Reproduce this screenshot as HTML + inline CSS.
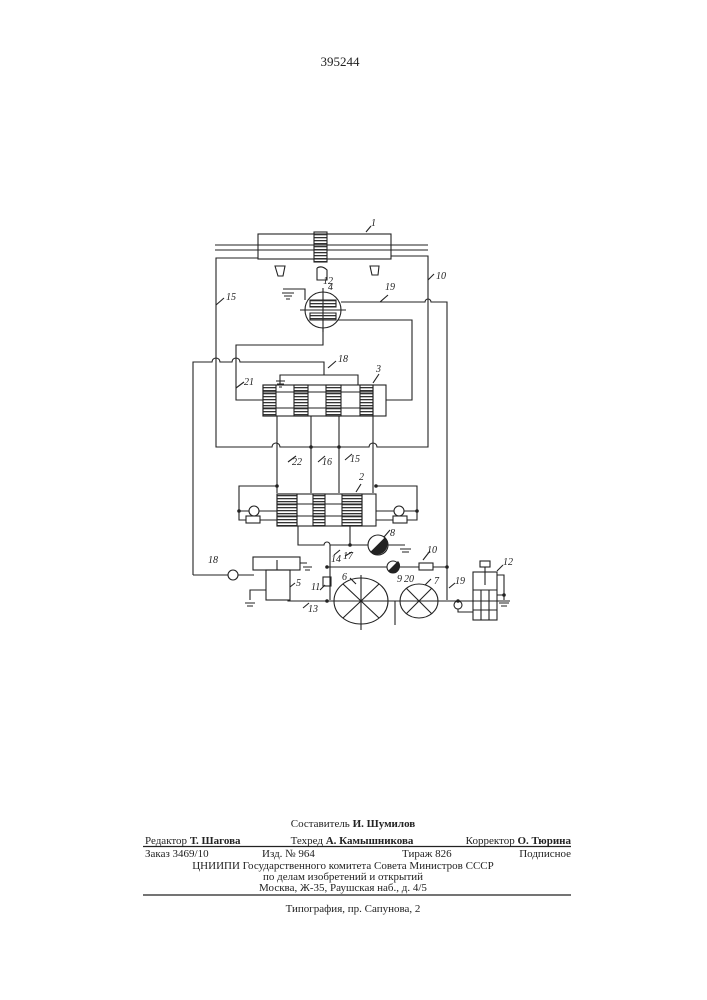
<!DOCTYPE html>
<html><head><meta charset="utf-8"><style>
html,body{margin:0;padding:0;background:#fff}
svg{display:block}
text{font-family:"Liberation Serif",serif;fill:#222}
.l{font-family:"Liberation Sans",sans-serif;font-style:italic;font-size:10px}
</style></head><body>
<svg width="707" height="1000" viewBox="0 0 707 1000" xmlns="http://www.w3.org/2000/svg">
<defs>
<pattern id="h" width="3" height="3" patternUnits="userSpaceOnUse"><rect width="3" height="1.3" fill="#333"/></pattern>
</defs>
<text x="340" y="66" font-size="13" text-anchor="middle">395244</text>
<g stroke="#222" stroke-width="1.1" fill="none">
<!-- cylinder 1 -->
<rect x="258" y="234" width="133" height="25"/>
<line x1="215" y1="245" x2="428" y2="245"/>
<line x1="215" y1="250" x2="428" y2="250"/>
<rect x="314" y="232" width="13" height="30" fill="url(#h)"/>
<line x1="366" y1="232" x2="371" y2="226"/>
<path d="M275 266 l3 10 h5 l2 -10z M370 266 l2 9 h6 l1 -9z M317 268 v12 h10 v-10 q-5 -5 -10 -2"/>
<!-- outer loop lines 16/10 -->
<path d="M258 258 H216 V447 H272 a4 4 0 0 1 8 0 H369 a4 4 0 0 1 8 0 H428 V256 H391"/>
<line x1="428" y1="280" x2="434" y2="274"/>
<line x1="216" y1="305" x2="224" y2="298"/>
<!-- valve 4 -->
<circle cx="323" cy="310" r="18"/>
<line x1="300" y1="310" x2="346" y2="310"/><line x1="323" y1="288" x2="323" y2="332"/>
<path d="M310 300 h26 v7 h-26z M310 313 h26 v7 h-26z" fill="url(#h)"/>
<path d="M305 300 V289 H283 M282 293 h12 M284 296 h8 M286 299 h4"/>
<path d="M341 302 H425 a3 3 0 0 1 6 0 H447 V600"/>
<line x1="380" y1="302" x2="388" y2="295"/>
<path d="M338 320 H412 V400 H386"/>
<path d="M323 328 V345 H236 V400 H263"/>
<line x1="236" y1="388" x2="244" y2="382"/>
<!-- line 18 -->
<path d="M193 575 V362 H212 a4 4 0 0 1 8 0 H232 a4 4 0 0 1 8 0 H324 V375"/>
<line x1="328" y1="368" x2="336" y2="361"/>
<path d="M280 385 V375 H358 V385"/>
<path d="M276 381 h9 M277 384 h7 M279 387 h3"/>
<!-- valve 3 -->
<rect x="263" y="385" width="123" height="31"/>
<rect x="263" y="385" width="13" height="31" fill="url(#h)"/>
<rect x="294" y="385" width="14" height="31" fill="url(#h)"/>
<rect x="326" y="385" width="15" height="31" fill="url(#h)"/>
<rect x="360" y="385" width="13" height="31" fill="url(#h)"/>
<line x1="263" y1="392" x2="373" y2="392"/><line x1="263" y1="408" x2="373" y2="408"/>
<line x1="373" y1="385" x2="373" y2="416"/>
<line x1="373" y1="383" x2="379" y2="374"/>
<!-- lines between 3 and 2 -->
<path d="M277 416 V493 M311 416 V493 M339 416 V493 M373 416 V493"/>
<line x1="288" y1="462" x2="296" y2="456"/>
<line x1="318" y1="462" x2="325" y2="456"/>
<line x1="345" y1="460" x2="352" y2="454"/>
<!-- valve 2 -->
<rect x="277" y="494" width="99" height="32"/>
<rect x="277" y="494" width="20" height="32" fill="url(#h)"/>
<rect x="313" y="494" width="12" height="32" fill="url(#h)"/>
<rect x="342" y="494" width="20" height="32" fill="url(#h)"/>
<line x1="277" y1="504" x2="362" y2="504"/><line x1="277" y1="516" x2="362" y2="516"/>
<line x1="297" y1="494" x2="297" y2="526"/><line x1="362" y1="494" x2="362" y2="526"/>
<line x1="356" y1="492" x2="361" y2="484"/>
<path d="M277 486 H239 V520 H277 M239 511 H277"/>
<path d="M376 486 H417 V520 H376 M376 511 H417"/>
<circle cx="254" cy="511" r="5" fill="#fff"/><circle cx="399" cy="511" r="5" fill="#fff"/>
<rect x="246" y="516" width="14" height="7" fill="#fff"/><rect x="393" y="516" width="14" height="7" fill="#fff"/>
<!-- below 2 -->
<path d="M298 526 V545 H324 a3 3 0 0 1 6 0 V600 M330 545 H350 V526 M350 545 H368"/>
<circle cx="378" cy="545" r="10" fill="#fff"/>
<path d="M371 552 L385 538 A10 10 0 0 1 371 552Z" fill="#222"/>
<path d="M388 545 H405 M400 549 h11 M402 552 h7"/>
<line x1="384" y1="537" x2="390" y2="530"/>
<line x1="334" y1="555" x2="340" y2="550"/>
<line x1="345" y1="556" x2="352" y2="552"/>
<!-- line 20 -->
<path d="M327 567 H447"/>
<circle cx="393" cy="567" r="6" fill="#fff"/>
<rect x="419" y="563" width="14" height="7" fill="#fff"/>
<line x1="423" y1="560" x2="430" y2="551"/>
<!-- line 18 pump/5 -->
<path d="M193 575 H254"/>
<circle cx="233" cy="575" r="5" fill="#fff"/>
<rect x="253" y="557" width="47" height="13"/>
<rect x="266" y="570" width="24" height="30"/>
<line x1="277" y1="560" x2="277" y2="570"/>
<path d="M300 563 H307 M303 567 h9 M305 570 h5"/>
<path d="M266 590 H250 V600 M245 603 h10 M247 606 h6"/>
<path d="M288 600 V601 H510"/>
<line x1="303" y1="608" x2="309" y2="603"/>
<line x1="290" y1="587" x2="295" y2="583"/>
<!-- 11 -->
<rect x="323" y="577" width="8" height="9"/>
<line x1="320" y1="590" x2="325" y2="585"/>
<!-- pumps 6,7 -->
<ellipse cx="361" cy="601" rx="27" ry="23"/>
<line x1="343" y1="584" x2="379" y2="618"/><line x1="343" y1="618" x2="379" y2="584"/>
<line x1="361" y1="575" x2="361" y2="630"/>
<ellipse cx="419" cy="601" rx="19" ry="17"/>
<line x1="406" y1="588" x2="432" y2="614"/><line x1="406" y1="614" x2="432" y2="588"/>
<line x1="395" y1="601" x2="395" y2="625"/>
<line x1="350" y1="578" x2="356" y2="584"/>
<line x1="425" y1="585" x2="431" y2="579"/>
<!-- 12 -->
<rect x="473" y="572" width="24" height="48"/>
<line x1="473" y1="590" x2="497" y2="590"/><line x1="473" y1="610" x2="497" y2="610"/>
<line x1="481" y1="590" x2="481" y2="620"/><line x1="489" y1="590" x2="489" y2="620"/>
<rect x="480" y="561" width="10" height="6"/>
<path d="M485 567 V585 M497 575 H504 V600 M499 603 h10 M501 606 h6 M497 595 H504"/>
<path d="M458 601 V612 H473"/>
<circle cx="458" cy="605" r="4" fill="#fff"/>
<line x1="497" y1="571" x2="503" y2="565"/>
<line x1="449" y1="588" x2="455" y2="583"/>
</g>
<g fill="#222">
<circle cx="311" cy="447" r="1.8"/><circle cx="339" cy="447" r="1.8"/>
<circle cx="277" cy="486" r="1.8"/><circle cx="376" cy="486" r="1.8"/>
<circle cx="239" cy="511" r="1.8"/><circle cx="417" cy="511" r="1.8"/>
<circle cx="350" cy="545" r="1.8"/><circle cx="327" cy="567" r="1.8"/><circle cx="447" cy="567" r="1.8"/>
<circle cx="327" cy="601" r="1.8"/><circle cx="458" cy="601" r="1.8"/><circle cx="504" cy="595" r="1.8"/>
<path d="M388 571 L398 561 A6 6 0 0 1 388 571Z"/>
</g>
<g class="l">
<text x="371" y="226">1</text><text x="436" y="279">10</text><text x="226" y="300">15</text>
<text x="323" y="284">12</text>
<text x="328" y="290">4</text><text x="385" y="290">19</text><text x="338" y="362">18</text>
<text x="376" y="372">3</text><text x="244" y="385">21</text>
<text x="292" y="465">22</text><text x="322" y="465">16</text><text x="350" y="462">15</text>
<text x="359" y="480">2</text><text x="390" y="536">8</text>
<text x="343" y="559">17</text><text x="331" y="562">14</text>
<text x="427" y="553">10</text><text x="397" y="582">9</text><text x="404" y="582">20</text>
<text x="208" y="563">18</text><text x="296" y="586">5</text><text x="311" y="590">11</text>
<text x="342" y="580">6</text><text x="434" y="584">7</text><text x="455" y="584">19</text>
<text x="503" y="565">12</text><text x="308" y="612">13</text>
</g>
<g font-size="11" font-family="Liberation Serif, serif">
<text x="353" y="827" text-anchor="middle">Составитель <tspan font-weight="bold">И. Шумилов</tspan></text>
<text x="145" y="844">Редактор <tspan font-weight="bold">Т. Шагова</tspan></text>
<text x="352" y="844" text-anchor="middle">Техред <tspan font-weight="bold">А. Камышникова</tspan></text>
<text x="571" y="844" text-anchor="end">Корректор <tspan font-weight="bold">О. Тюрина</tspan></text>
<text x="145" y="857">Заказ 3469/10</text>
<text x="262" y="857">Изд. № 964</text>
<text x="402" y="857">Тираж 826</text>
<text x="571" y="857" text-anchor="end">Подписное</text>
<text x="343" y="869" text-anchor="middle">ЦНИИПИ Государственного комитета Совета Министров СССР</text>
<text x="343" y="880" text-anchor="middle">по делам изобретений и открытий</text>
<text x="343" y="891" text-anchor="middle">Москва, Ж-35, Раушская наб., д. 4/5</text>
<text x="353" y="912" text-anchor="middle">Типография, пр. Сапунова, 2</text>
</g>
<line x1="143" y1="846.5" x2="571" y2="846.5" stroke="#222" stroke-width="1.2"/>
<line x1="143" y1="895" x2="571" y2="895" stroke="#222" stroke-width="1.2"/>
</svg>
</body></html>
